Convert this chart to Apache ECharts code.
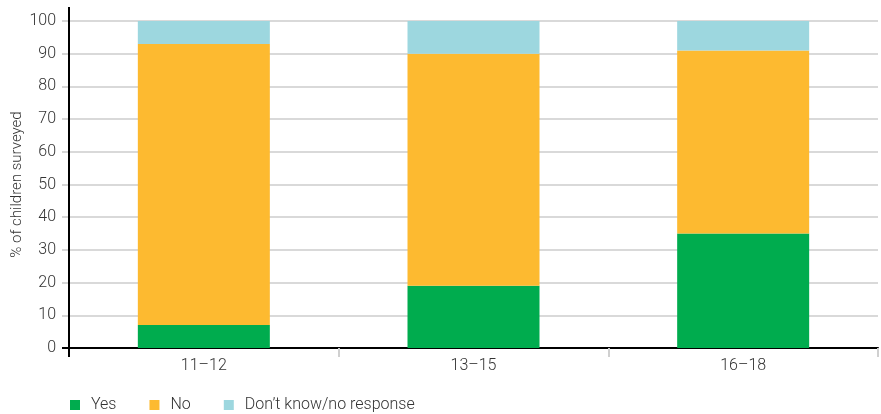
<!DOCTYPE html>
<html>
<head>
<meta charset="utf-8">
<script src="https://cdn.jsdelivr.net/npm/echarts@6/dist/echarts.min.js"></script>
<style>html,body{margin:0;padding:0;background:#fff}#c{width:881px;height:414px}</style>
</head>
<body>
<div id="c"></div>
<script>
var categories = ['11\u201312', '13\u201315', '16\u201318'];
var yesValues = [7, 19, 35];
var noValues = [86, 71, 56];
var dkValues = [7, 10, 9];
var seriesNames = ['Yes', 'No', 'Don\u2019t know/no response'];
var yTicks = [0, 10, 20, 30, 40, 50, 60, 70, 80, 90, 100];

var FONT = 'Roboto';
var chart = echarts.init(document.getElementById('c'), null, {renderer: 'canvas'});
var colors = ['#00ac4e', '#fdba30', '#9dd7df'];
function bar(name, data, color) {
  return {name: name, type: 'bar', stack: 'all', data: data, barWidth: 132,
    itemStyle: {color: color}, emphasis: {disabled: true}};
}
chart.setOption({
  animation: false,
  textStyle: {fontFamily: FONT},
  grid: {left: 69, right: 3, top: 21, bottom: 66, containLabel: false, outerBoundsMode: 'none'},
  legend: {
    left: 70, top: 397, padding: 0, itemWidth: 10, itemHeight: 10, itemGap: 33,
    icon: 'rect',
    textStyle: {fontSize: 16, color: '#333', fontFamily: FONT, fontWeight: 300, padding: [0, 0, 0, 6]},
    data: seriesNames
  },
  xAxis: {
    type: 'category', data: categories,
    axisLine: {lineStyle: {color: '#000', width: 2}},
    axisTick: {show: true, alignWithLabel: false, length: 9, lineStyle: {color: '#d0d0d0', width: 2}},
    axisLabel: {fontSize: 16, fontWeight: 300, color: '#333', margin: 10, fontFamily: FONT}
  },
  yAxis: {
    type: 'value', min: yTicks[0], max: yTicks[yTicks.length - 1], interval: 10,
    name: '% of children surveyed', nameLocation: 'middle', nameGap: 44, nameMoveOverlap: false,
    nameTextStyle: {fontSize: 15, fontWeight: 300, color: '#333', fontFamily: FONT},
    axisLine: {show: true, lineStyle: {color: '#000', width: 2}},
    axisTick: {show: true, length: 7, lineStyle: {color: '#d6d6d6', width: 2}},
    splitLine: {lineStyle: {color: '#d9d9d9', width: 2}},
    axisLabel: {fontSize: 16, fontWeight: 300, color: '#333', margin: 13, fontFamily: FONT}
  },
  series: [
    bar(seriesNames[0], yesValues, colors[0]),
    bar(seriesNames[1], noValues, colors[1]),
    bar(seriesNames[2], dkValues, colors[2])
  ]
});
// axis line extensions (decoration)
var y0 = chart.convertToPixel({yAxisIndex: 0}, 0), y100 = chart.convertToPixel({yAxisIndex: 0}, 100);
var ax = 69;
chart.setOption({
  graphic: [
    {type: 'line', z: 100, shape: {x1: ax, y1: y100 - 14, x2: ax, y2: y0 + 9}, style: {stroke: '#000', lineWidth: 2}},
    {type: 'line', z: 100, shape: {x1: ax - 7, y1: y0, x2: ax, y2: y0}, style: {stroke: '#000', lineWidth: 2}}
  ]
});
</script>
</body>
</html>
